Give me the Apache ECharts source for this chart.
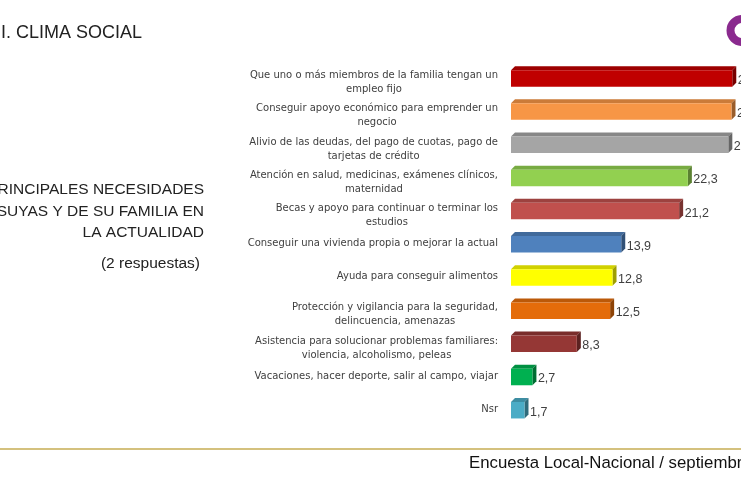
<!DOCTYPE html>
<html>
<head>
<meta charset="utf-8">
<script src="https://cdn.jsdelivr.net/npm/echarts@6/dist/echarts.min.js"></script>
<style>
html,body{margin:0;padding:0;background:#fff;}
#c{width:741px;height:486px;}
</style>
</head>
<body>
<div id="c"></div>
<script>
var categories = [
  'Que uno o más miembros de la familia tengan un\nempleo fijo',
  'Conseguir apoyo económico para emprender un\nnegocio',
  'Alivio de las deudas, del pago de cuotas, pago de\ntarjetas de crédito',
  'Atención en salud, medicinas, exámenes clínicos,\nmaternidad',
  'Becas y apoyo para continuar o terminar los\nestudios',
  'Conseguir una vivienda propia o mejorar la actual',
  'Ayuda para conseguir alimentos',
  'Protección y vigilancia para la seguridad,\ndelincuencia, amenazas',
  'Asistencia para solucionar problemas familiares:\nviolencia, alcoholismo, peleas',
  'Vacaciones, hacer deporte, salir al campo, viajar',
  'Nsr'
];
var values = [27.9, 27.8, 27.4, 22.3, 21.2, 13.9, 12.8, 12.5, 8.3, 2.7, 1.7];
var colors = ['#C00000', '#F79646', '#A5A5A5', '#92D050', '#C0504D', '#4F81BD', '#FFFF00', '#E46C0A', '#953735', '#00B050', '#4BACC6'];

function shade(hex, f) {
  var n = parseInt(hex.slice(1), 16);
  var r = Math.round(((n >> 16) & 255) * f);
  var g = Math.round(((n >> 8) & 255) * f);
  var b = Math.round((n & 255) * f);
  return 'rgb(' + r + ',' + g + ',' + b + ')';
}
function fmt(v) { return v.toFixed(1).replace('.', ','); }

var data = values.map(function (v, i) { return [v, i]; });

var chart = echarts.init(document.getElementById('c'), null, {renderer: 'canvas'});

function renderItem(params, api) {
  var val = api.value(0);
  var idx = api.value(1);
  var s = api.coord([0, idx]);
  var e = api.coord([val, idx]);
  var h = 16.5, d = 4;
  var x0 = s[0], x1 = e[0], yc = s[1] + 0.8;
  var yt = yc - h / 2, yb = yc + h / 2;
  var col = colors[idx];
  return {
    type: 'group',
    children: [
      {type: 'polygon', shape: {points: [[x0, yt], [x0 + d, yt - d], [x1 + d, yt - d], [x1, yt]]}, style: {fill: shade(col, 0.82)}},
      {type: 'polygon', shape: {points: [[x1, yt], [x1 + d, yt - d], [x1 + d, yb - d], [x1, yb]]}, style: {fill: shade(col, 0.62)}},
      {type: 'rect', shape: {x: x0, y: yt, width: x1 - x0, height: h}, style: {fill: col}},
      {type: 'text', x: x1 + d + 1.5, y: yc + 2, style: {text: fmt(val), fill: '#404040', font: '12.5px "Liberation Sans", Arial, sans-serif', align: 'left', verticalAlign: 'middle'}}
    ]
  };
}

var option = {
  animation: false,
  backgroundColor: '#ffffff',
  grid: {left: 511, right: 0, top: 61, height: 365, containLabel: false},
  xAxis: {type: 'value', min: 0, max: 29, show: false},
  yAxis: {
    type: 'category', data: categories, inverse: true,
    axisLine: {show: false}, axisTick: {show: false}, splitLine: {show: false},
    axisLabel: {
      margin: 13, align: 'right',
      formatter: function (v) {
        var lines = v.split('\n');
        var out = lines.map(function (l) { return '{c|' + l + '}'; }).join('\n');
        return lines.length > 1 ? '{e| }\n' + out : out;
      },
      rich: {
        c: {align: 'center', fontSize: 10, lineHeight: 14, color: '#404040', fontFamily: '"DejaVu Sans", Verdana, sans-serif'},
        e: {fontSize: 1, lineHeight: 10}
      }
    }
  },
  graphic: [
    {type: 'text', left: 1, top: 24, style: {text: 'I. CLIMA SOCIAL', fill: '#222', font: '18px "Liberation Sans", Arial, sans-serif'}},
    {type: 'text', x: 204, y: 190, style: {text: 'PRINCIPALES NECESIDADES', fill: '#222', font: '15.5px "Liberation Sans", Arial, sans-serif', align: 'right', verticalAlign: 'middle'}},
    {type: 'text', x: 204, y: 212, style: {text: 'SUYAS Y DE SU FAMILIA EN', fill: '#222', font: '15.5px "Liberation Sans", Arial, sans-serif', align: 'right', verticalAlign: 'middle'}},
    {type: 'text', x: 204, y: 233, style: {text: 'LA ACTUALIDAD', fill: '#222', font: '15.5px "Liberation Sans", Arial, sans-serif', align: 'right', verticalAlign: 'middle'}},
    {type: 'text', x: 200, y: 264, style: {text: '(2 respuestas)', fill: '#222', font: '15.5px "Liberation Sans", Arial, sans-serif', align: 'right', verticalAlign: 'middle'}},
    {type: 'line', shape: {x1: 0, y1: 449, x2: 741, y2: 449}, style: {stroke: '#D4C17E', lineWidth: 2}},
    {type: 'text', x: 469, y: 463, style: {text: 'Encuesta Local-Nacional / septiembre', fill: '#111', font: '16.8px "Liberation Sans", Arial, sans-serif', align: 'left', verticalAlign: 'middle'}},
    {type: 'ring', shape: {cx: 742, cy: 30.5, r: 15.5, r0: 7.5}, style: {fill: '#8A2A8E'}}
  ],
  series: [{
    type: 'custom',
    renderItem: renderItem,
    encode: {x: 0, y: 1},
    data: data,
    clip: false
  }]
};
chart.setOption(option);
</script>
</body>
</html>
